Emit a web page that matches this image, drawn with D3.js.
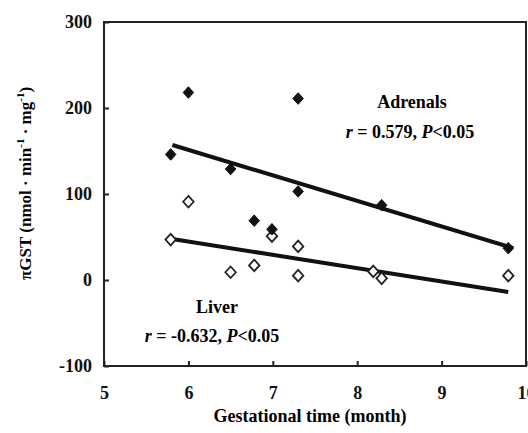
<!DOCTYPE html>
<html>
<head>
<meta charset="utf-8">
<script src="https://cdn.jsdelivr.net/npm/d3@7"></script>
<style>
  body { margin: 0; background: #fff; }
  svg { display: block; }
  svg text { font-family: "Liberation Serif", "Times New Roman", serif; font-weight: bold; }
</style>
</head>
<body>
<div id="chart"></div>
<script>
// ---- data ----
const adrenalMonths = [6.0, 7.3, 5.79, 6.5, 7.3, 8.29, 6.78, 6.99, 9.79];
const adrenalValues = [218, 211, 146, 129, 103, 87, 69, 59, 37];
const liverMonths = [6.0, 5.79, 6.99, 7.3, 6.5, 6.78, 7.3, 8.19, 8.29, 9.79];
const liverValues = [91, 47, 51, 39, 9, 17, 5, 10, 2, 5];

// fitted line end points (month, value)
const adrenalFit = [[5.81, 157], [9.85, 37]];
const liverFit = [[5.79, 48], [9.79, -14]];

const xTicks = [5, 6, 7, 8, 9, 10];
const yTicks = [-100, 0, 100, 200, 300];

const width = 528, height = 433;
const margin = { top: 22, right: 2, bottom: 67, left: 104 };

const svg = d3.select("#chart").append("svg")
    .attr("width", width)
    .attr("height", height);

const x = d3.scaleLinear().domain([5, 10]).range([margin.left, width - margin.right]);
const y = d3.scaleLinear().domain([-100, 300]).range([height - margin.bottom, margin.top]);

// plot frame
svg.append("rect")
    .attr("x", x(5)).attr("y", y(300))
    .attr("width", x(10) - x(5)).attr("height", y(-100) - y(300))
    .attr("fill", "none").attr("stroke", "#222").attr("stroke-width", 2);

// axes: ticks point inward
const xAxis = svg.append("g")
    .attr("transform", `translate(0,${y(-100)})`)
    .call(d3.axisBottom(x).tickValues(xTicks).tickSize(-5).tickPadding(20).tickFormat(d => String(d)))
    .attr("font-size", 18);
xAxis.select(".domain").remove();
xAxis.selectAll("line").attr("stroke", "#222").attr("stroke-width", 2);
xAxis.selectAll("text").attr("fill", "#111");

const yAxis = svg.append("g")
    .attr("transform", `translate(${x(5)},0)`)
    .call(d3.axisLeft(y).tickValues(yTicks).tickSize(-5).tickPadding(12).tickFormat(d => String(d)))
    .attr("font-size", 18);
yAxis.select(".domain").remove();
yAxis.selectAll("line").attr("stroke", "#222").attr("stroke-width", 2);
yAxis.selectAll("text").attr("fill", "#111");

// axis titles
svg.append("text")
    .attr("x", (x(5) + x(10)) / 2 - 5)
    .attr("y", 422)
    .attr("text-anchor", "middle")
    .attr("font-size", 18)
    .text("Gestational time (month)");

const yTitle = svg.append("text")
    .attr("transform", `translate(31,${y(0)}) rotate(-90)`)
    .attr("text-anchor", "start")
    .attr("font-size", 17);
yTitle.append("tspan").text("\u03c0GST (nmol \u00b7 min");
yTitle.append("tspan").attr("font-size", 11).attr("dy", -7).text("-1");
yTitle.append("tspan").attr("dy", 7).text(" \u00b7 mg");
yTitle.append("tspan").attr("font-size", 11).attr("dy", -7).text("-1");
yTitle.append("tspan").attr("dy", 7).text(")");

// regression lines
const line = d3.line().x(d => x(d[0])).y(d => y(d[1]));
[adrenalFit, liverFit].forEach(fit => {
    svg.append("path")
        .attr("d", line(fit))
        .attr("fill", "none")
        .attr("stroke", "#111")
        .attr("stroke-width", 4);
});

// square-ish diamond marker
const diamond = {
    draw(ctx, size) {
        const w = Math.sqrt(size) / 2;
        ctx.moveTo(0, -w * 1.1);
        ctx.lineTo(w, 0);
        ctx.lineTo(0, w * 1.1);
        ctx.lineTo(-w, 0);
        ctx.closePath();
    }
};
const sym = d3.symbol().type(diamond).size(110);

svg.append("g").selectAll("path")
    .data(liverMonths.map((m, i) => [m, liverValues[i]]))
    .join("path")
    .attr("d", sym)
    .attr("transform", d => `translate(${x(d[0])},${y(d[1])})`)
    .attr("fill", "#fff")
    .attr("stroke", "#222")
    .attr("stroke-width", 1.8);

svg.append("g").selectAll("path")
    .data(adrenalMonths.map((m, i) => [m, adrenalValues[i]]))
    .join("path")
    .attr("d", sym)
    .attr("transform", d => `translate(${x(d[0])},${y(d[1])})`)
    .attr("fill", "#111")
    .attr("stroke", "#111")
    .attr("stroke-width", 1);

// annotations
svg.append("text")
    .attr("x", 412).attr("y", 108)
    .attr("text-anchor", "middle")
    .attr("font-size", 18)
    .text("Adrenals");

const adrStat = svg.append("text")
    .attr("x", 410).attr("y", 138)
    .attr("text-anchor", "middle")
    .attr("font-size", 18);
adrStat.append("tspan").attr("font-style", "italic").text("r");
adrStat.append("tspan").text(" = 0.579, ");
adrStat.append("tspan").attr("font-style", "italic").text("P");
adrStat.append("tspan").text("<0.05");

svg.append("text")
    .attr("x", 217).attr("y", 313)
    .attr("text-anchor", "middle")
    .attr("font-size", 18)
    .text("Liver");

const livStat = svg.append("text")
    .attr("x", 212).attr("y", 342)
    .attr("text-anchor", "middle")
    .attr("font-size", 18);
livStat.append("tspan").attr("font-style", "italic").text("r");
livStat.append("tspan").text(" = -0.632, ");
livStat.append("tspan").attr("font-style", "italic").text("P");
livStat.append("tspan").text("<0.05");
</script>
</body>
</html>
